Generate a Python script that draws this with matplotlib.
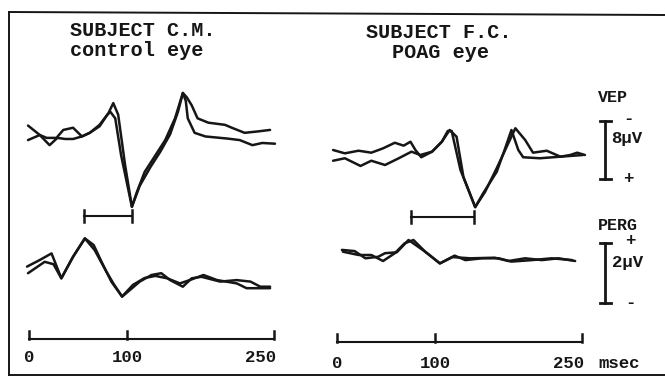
import matplotlib
matplotlib.use("Agg")
import matplotlib.pyplot as plt
from matplotlib.transforms import blended_transform_factory as blend

# ── Data (time in msec, amplitude in µV) ──────────────────────────────────────
# VEP: positive values plotted downward ("+" at bottom of the calibration bar)
LEFT_VEP_A_T = [-1, 11, 21, 29, 37, 45, 54, 62, 72, 81, 86, 91, 98, 105, 110,
                118, 129, 139, 149, 157, 161, 166, 172, 183, 200, 207, 220, 234, 246]
LEFT_VEP_A_V = [-1.3, 0.0, 1.4, 0.4, 0.55, 0.55, 0.2, -0.3, -1.4, -3.0, -4.4, -2.8,
                4.1, 9.9, 7.9, 5.1, 2.8, 0.7, -2.3, -5.8, -5.2, -4.1, -2.3, -1.7,
                -1.4, -1.0, -0.3, -0.5, -0.7]
LEFT_VEP_B_T = [-1, 11, 18, 28, 35, 45, 54, 62, 72, 80, 83, 88, 94, 105, 113,
                124, 134, 144, 152, 157, 160, 162, 169, 180, 203, 215, 228, 238, 251]
LEFT_VEP_B_V = [0.7, 0.0, 0.4, 0.4, -0.7, -1.0, 0.2, -0.3, -1.2, -2.8, -3.2, -2.3,
                2.8, 9.9, 7.0, 4.4, 2.3, -0.1, -3.2, -5.8, -4.7, -2.3, -0.3, 0.2,
                0.5, 0.7, 1.4, 1.1, 1.2]

LEFT_PERG_A_T = [-2, 11, 23, 33, 45, 57, 66, 74, 84, 95, 103, 113, 125, 135, 144,
                 157, 166, 176, 195, 212, 226, 236, 246]
LEFT_PERG_A_V = [0.28, 0.5, 0.72, -0.11, 0.61, 1.22, 1.0, 0.44, -0.22, -0.72, -0.5,
                 -0.22, 0.0, 0.06, -0.17, -0.39, -0.11, -0.06, -0.22, -0.17, -0.22,
                 -0.39, -0.39]
LEFT_PERG_B_T = [-1, 16, 25, 33, 45, 57, 67, 79, 87, 95, 106, 118, 129, 141, 154,
                 164, 178, 192, 212, 222, 246]
LEFT_PERG_B_V = [0.06, 0.44, 0.36, -0.11, 0.61, 1.22, 0.83, 0.11, -0.33, -0.72,
                 -0.33, -0.1, -0.03, -0.11, -0.28, -0.17, 0.0, -0.17, -0.28, -0.44,
                 -0.44]

RIGHT_VEP_A_T = [-4, 8, 22, 35, 47, 59, 68, 75, 80, 86, 97, 107, 115, 122, 129,
                 141, 149, 163, 171, 178, 185, 190, 207, 228, 251]
RIGHT_VEP_A_V = [0.0, 0.46, 0.1, 0.37, -0.23, -1.0, -0.6, -1.14, 0.0, 1.0, 0.23,
                 -1.14, -2.76, -1.83, 3.7, 7.9, 6.0, 3.0, 0.0, -2.76, 0.0, 1.0,
                 1.14, 0.92, 0.69]
RIGHT_VEP_B_T = [-4, 8, 24, 35, 49, 63, 76, 85, 97, 107, 113, 117, 126, 141, 151,
                 163, 174, 182, 192, 200, 214, 228, 238, 245, 253]
RIGHT_VEP_B_V = [1.48, 1.14, 2.2, 1.48, 2.07, 1.14, 0.23, 0.69, 0.23, -1.14, -2.62,
                 -2.62, 2.76, 7.86, 5.8, 2.5, -0.7, -3.0, -1.38, 0.37, 0.1, 0.92,
                 0.69, 0.37, 0.69]

RIGHT_PERG_A_T = [5, 18, 29, 42, 49, 61, 73, 90, 105, 120, 131, 148, 165, 178,
                  199, 219, 240]
RIGHT_PERG_A_V = [0.17, 0.13, -0.11, -0.06, 0.06, 0.09, 0.5, 0.11, -0.28, -0.02,
                  -0.17, -0.11, -0.11, -0.22, -0.17, -0.11, -0.17]
RIGHT_PERG_B_T = [6, 22, 35, 47, 59, 69, 78, 90, 105, 118, 136, 161, 175, 192,
                  209, 226, 243]
RIGHT_PERG_B_V = [0.11, 0.0, 0.0, -0.2, 0.06, 0.39, 0.5, 0.11, -0.28, -0.07,
                  -0.11, -0.09, -0.2, -0.11, -0.17, -0.11, -0.2]

# PERG peak -> VEP trough latency markers (msec)
LATENCY_LEFT = [56, 105]
LATENCY_RIGHT = [75, 140]
TIME_TICKS = [0, 100, 250]
CAL_VEP = 8   # µV
CAL_PERG = 2  # µV

# ── Layout (pixels) ───────────────────────────────────────────────────────────
W, H = 665, 379
PX_MS = 0.98
PX_UV_VEP = 7.25
PX_UV_PERG = 30.0
INK = "#161616"
FONT = dict(family="Liberation Mono", weight="bold", color=INK)

fig = plt.figure(figsize=(W / 100, H / 100), dpi=100)
bg = fig.add_axes([0, 0, 1, 1])
bg.set_xlim(0, W)
bg.set_ylim(H, 0)
bg.axis("off")


def trace_axes(x0, y0, px_uv, up):
    """Transparent axes where t=0 sits at pixel x0 and 0 µV at pixel y0."""
    ax = fig.add_axes([0, 0, 1, 1], facecolor="none")
    ax.set_xlim(-x0 / PX_MS, (W - x0) / PX_MS)
    if up:
        ax.set_ylim((y0 - H) / px_uv, y0 / px_uv)
    else:
        ax.set_ylim((H - y0) / px_uv, -y0 / px_uv)
    ax.axis("off")
    return ax


ax_lv = trace_axes(29, 135, PX_UV_VEP, up=False)
ax_lp = trace_axes(29, 275, PX_UV_PERG, up=True)
ax_rv = trace_axes(337, 150, PX_UV_VEP, up=False)
ax_rp = trace_axes(337, 255, PX_UV_PERG, up=True)

kw = dict(color=INK, lw=1.8, solid_joinstyle="round", solid_capstyle="round")
ax_lv.plot(LEFT_VEP_A_T, LEFT_VEP_A_V, **kw)
ax_lv.plot(LEFT_VEP_B_T, LEFT_VEP_B_V, **kw)
ax_lp.plot(LEFT_PERG_A_T, LEFT_PERG_A_V, **kw)
ax_lp.plot(LEFT_PERG_B_T, LEFT_PERG_B_V, **kw)
ax_rv.plot(RIGHT_VEP_A_T, RIGHT_VEP_A_V, **kw)
ax_rv.plot(RIGHT_VEP_B_T, RIGHT_VEP_B_V, **kw)
ax_rp.plot(RIGHT_PERG_A_T, RIGHT_PERG_A_V, **kw)
ax_rp.plot(RIGHT_PERG_B_T, RIGHT_PERG_B_V, **kw)

# latency bars and time axes (x in msec, y in pixels)
for ax, lat, y_lat, y_axis, y_lab in [(ax_lp, LATENCY_LEFT, 216, 339, 358),
                                      (ax_rp, LATENCY_RIGHT, 217, 342, 363)]:
    tr = blend(ax.transData, bg.transData)
    ax.plot(lat, [y_lat, y_lat], transform=tr, color=INK, lw=1.5)
    for t in lat:
        ax.plot([t, t], [y_lat - 6, y_lat + 6], transform=tr, color=INK, lw=1.8)
    ax.plot([TIME_TICKS[0], TIME_TICKS[-1]], [y_axis, y_axis], transform=tr,
            color=INK, lw=1.5)
    for t in TIME_TICKS:
        ax.plot([t, t], [y_axis - 8, y_axis], transform=tr, color=INK, lw=1.8)
        if t == TIME_TICKS[-1]:
            ax.text(t + 2, y_lab, str(t), transform=tr, ha="right", va="center",
                    fontsize=12.5, **FONT)
        else:
            ax.text(t, y_lab, str(t), transform=tr, ha="center", va="center",
                    fontsize=12.5, **FONT)

# calibration bars (x in pixels, y in µV)
tr_v = blend(bg.transData, ax_rv.transData)
ax_rv.plot([605, 605], [-CAL_VEP / 2, CAL_VEP / 2], transform=tr_v, color=INK, lw=2)
for v in (-CAL_VEP / 2, CAL_VEP / 2):
    ax_rv.plot([600, 611], [v, v], transform=tr_v, color=INK, lw=2)
tr_p = blend(bg.transData, ax_rp.transData)
perg_lo = -1.6
ax_rp.plot([605, 605], [perg_lo, perg_lo + CAL_PERG], transform=tr_p, color=INK, lw=2)
for v in (perg_lo, perg_lo + CAL_PERG):
    ax_rp.plot([600, 611], [v, v], transform=tr_p, color=INK, lw=2)

# frame
bg.plot([9, 9], [12, 375], color=INK, lw=1.4)
bg.plot([9, W], [12, 15], color=INK, lw=1.4)
bg.plot([9, W], [375, 375], color=INK, lw=1.4)

# texts
bg.text(70, 30, "SUBJECT C.M.", ha="left", va="center", fontsize=14.5, **FONT)
bg.text(70, 50, "control eye", ha="left", va="center", fontsize=14.5, **FONT)
bg.text(439, 33, "SUBJECT F.C.", ha="center", va="center", fontsize=14.5, **FONT)
bg.text(440, 52, "POAG eye", ha="center", va="center", fontsize=14.5, **FONT)

bg.text(613, 98, "VEP", ha="center", va="center", fontsize=12, **FONT)
bg.text(628, 119, "-", ha="center", va="center", fontsize=12.5, **FONT)
bg.text(611, 138, "8µV", ha="left", va="center", fontsize=12.5, **FONT)
bg.text(628, 178, "+", ha="center", va="center", fontsize=12.5, **FONT)

bg.text(618, 225, "PERG", ha="center", va="center", fontsize=12, **FONT)
bg.text(630, 241, "+", ha="center", va="center", fontsize=12.5, **FONT)
bg.text(612, 263, "2µV", ha="left", va="center", fontsize=12.5, **FONT)
bg.text(630, 303, "-", ha="center", va="center", fontsize=12.5, **FONT)

bg.text(598, 363, "msec", ha="left", va="center", fontsize=12.5, **FONT)

fig.savefig("out.png", dpi=100)
